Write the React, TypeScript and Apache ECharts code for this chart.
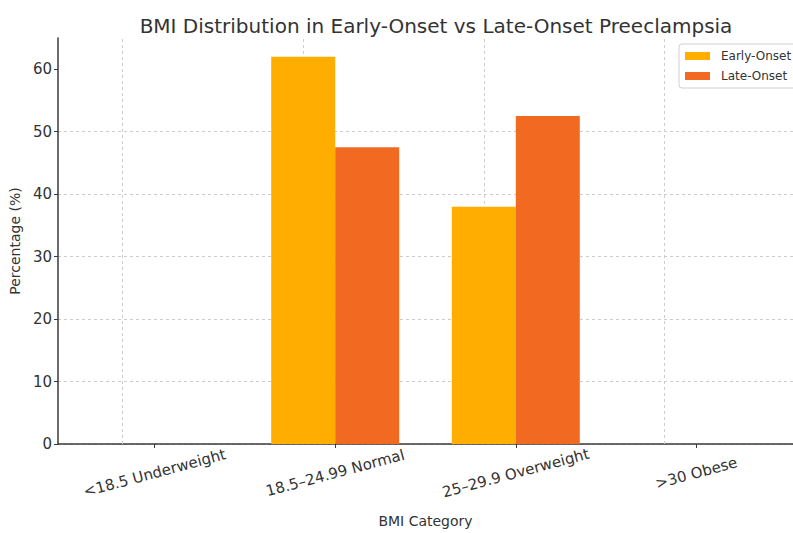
import React, { useEffect, useRef } from "react";
import * as echarts from "echarts";

const categories = ["<18.5 Underweight", "18.5–24.99 Normal", "25–29.9 Overweight", ">30 Obese"];
const earlyOnset = [0, 62, 38, 0];
const lateOnset = [0, 47.5, 52.5, 0];
const yTicks = [0, 10, 20, 30, 40, 50, 60];
const xPositions = [0, 1, 2, 3];

const FONT = "DejaVu Sans";

export default function App() {
  const ref = useRef<HTMLDivElement>(null);
  useEffect(() => {
    document.body.style.margin = "0";
    const chart = echarts.init(ref.current!, null, { renderer: "svg" });
    chart.setOption({
      animation: false,
      textStyle: { fontFamily: FONT },
      title: {
        text: "BMI Distribution in Early-Onset vs Late-Onset Preeclampsia",
        left: 431,
        textAlign: "center",
        top: 11,
        textStyle: { fontFamily: FONT, fontSize: 20, fontWeight: "normal", color: "#333" },
      },
      legend: {
        orient: "vertical",
        left: 679,
        top: 44,
        itemWidth: 25,
        itemHeight: 8,
        itemGap: 8,
        padding: [6, 12, 6, 6],
        borderColor: "#d0d0d0",
        borderWidth: 1,
        borderRadius: 3,
        backgroundColor: "#fff",
        icon: "rect",
        textStyle: { fontFamily: FONT, fontSize: 12, color: "#333", padding: [0, 0, 0, 6] },
        data: ["Early-Onset", "Late-Onset"],
      },
      grid: { left: 57, top: 38, width: 747, height: 417, containLabel: false },
      xAxis: {
        type: "value",
        min: -0.535,
        max: 3.535,
        name: "BMI Category",
        nameLocation: "middle",
        nameGap: 70,
        nameTextStyle: { fontFamily: FONT, fontSize: 14, color: "#333" },
        axisLine: { show: true, onZero: false, lineStyle: { color: "#3a3a3a", width: 1.5 } },
        axisTick: { show: true, customValues: xPositions, length: 4, lineStyle: { color: "#3a3a3a" } },
        axisLabel: {
          customValues: xPositions,
          rotate: 15,
          align: "center",
          verticalAlign: "middle",
          margin: 29,
          fontFamily: FONT,
          fontSize: 15,
          color: "#333",
          formatter: (v: number) => categories[Math.round(v)] ?? "",
        },
        splitLine: { show: false },
      },
      yAxis: {
        type: "value",
        min: 0,
        max: 65,
        interval: 10,
        name: "Percentage (%)",
        nameLocation: "middle",
        nameGap: 28,
        nameTextStyle: { fontFamily: FONT, fontSize: 14, color: "#333" },
        axisLine: { show: true, onZero: false, lineStyle: { color: "#3a3a3a", width: 1.5 } },
        axisTick: { show: true, customValues: yTicks, length: 4, lineStyle: { color: "#3a3a3a" } },
        axisLabel: { customValues: yTicks, margin: 6, fontFamily: FONT, fontSize: 15, color: "#333" },
        splitLine: { show: true, showMaxLine: false, lineStyle: { color: "#cccccc", type: [3, 3], width: 1 } },
      },
      series: [
        {
          name: "Early-Onset",
          type: "bar",
          barWidth: 64,
          barGap: "0%",
          itemStyle: { color: "#FFAE00" },
          data: earlyOnset.map((v, i) => [xPositions[i], v]),
          markLine: {
            z: 1,
            silent: true,
            symbol: "none",
            label: { show: false },
            lineStyle: { color: "#cccccc", type: [3, 3], width: 1 },
            data: xPositions.map((x) => ({ xAxis: x })),
          },
        },
        {
          name: "Late-Onset",
          type: "bar",
          barWidth: 64,
          barGap: "0%",
          itemStyle: { color: "#F26A22" },
          data: lateOnset.map((v, i) => [xPositions[i], v]),
        },
      ],
    });
    return () => chart.dispose();
  }, []);
  return <div ref={ref} style={{ width: 793, height: 533 }} />;
}
